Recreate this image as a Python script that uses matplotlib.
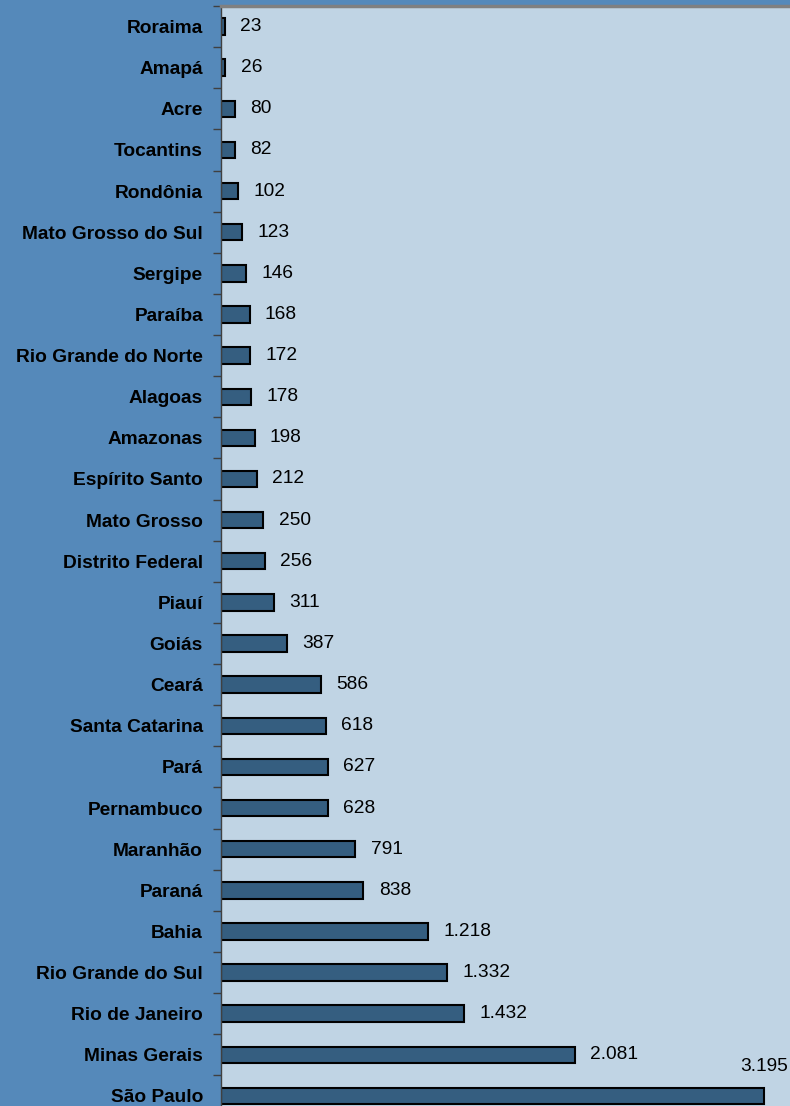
import matplotlib.pyplot as plt

# states in the order they appear from top to bottom
states = [
    "Roraima", "Amapá", "Acre", "Tocantins", "Rondônia", "Mato Grosso do Sul",
    "Sergipe", "Paraíba", "Rio Grande do Norte", "Alagoas", "Amazonas",
    "Espírito Santo", "Mato Grosso", "Distrito Federal", "Piauí", "Goiás",
    "Ceará", "Santa Catarina", "Pará", "Pernambuco", "Maranhão", "Paraná",
    "Bahia", "Rio Grande do Sul", "Rio de Janeiro", "Minas Gerais", "São Paulo",
]
values = [
    23, 26, 80, 82, 102, 123, 146, 168, 172, 178, 198, 212, 250, 256, 311,
    387, 586, 618, 627, 628, 791, 838, 1218, 1332, 1432, 2081, 3195,
]


def fmt_br(v: int) -> str:
    """Thousands separator with a dot, as in pt-BR."""
    return f"{v:,}".replace(",", ".")


plt.rcParams["font.family"] = ["Liberation Sans", "DejaVu Sans"]
plt.rcParams["font.size"] = 13.8

fig = plt.figure(figsize=(7.9, 11.06), dpi=100, facecolor="#5589BA")
ax = fig.add_axes([221 / 790, 0.0, 1.0 - 221 / 790, 1.0 - 6 / 1106])
ax.set_facecolor("#C0D4E4")

pos = list(range(len(states)))
ax.barh(pos, values, height=0.4, color="#355E80", edgecolor="black",
        linewidth=1.5)

for i, v in enumerate(values):
    if i == len(values) - 1:
        # last label sits above its bar, like in the original
        ax.annotate(fmt_br(v), (v, i), xytext=(17, 21.5), textcoords="offset points",
                    ha="right", va="center", fontsize=13.8)
    else:
        ax.annotate(fmt_br(v), (v, i), xytext=(11, 0), textcoords="offset points",
                    ha="left", va="center", fontsize=13.8)

ax.set_yticks(pos)
ax.set_yticklabels(states, fontweight="bold")
ax.tick_params(axis="y", length=0, pad=13)
ax.set_yticks([p + 0.5 for p in [-1] + pos], minor=True)
ax.tick_params(axis="y", which="minor", length=6, color="#404040", width=1)
ax.set_xticks([])

# limits last, set_yticks would expand them otherwise
ax.set_xlim(0, (790 - 221) / (543 / 3195))
ax.set_ylim(26.245, -0.5)

for side in ["right", "bottom"]:
    ax.spines[side].set_visible(False)
ax.spines["top"].set_color("#808080")
ax.spines["top"].set_linewidth(2.5)
ax.spines["left"].set_color("#404040")
ax.spines["left"].set_linewidth(1)

fig.savefig("out.png", dpi=100, facecolor=fig.get_facecolor())
